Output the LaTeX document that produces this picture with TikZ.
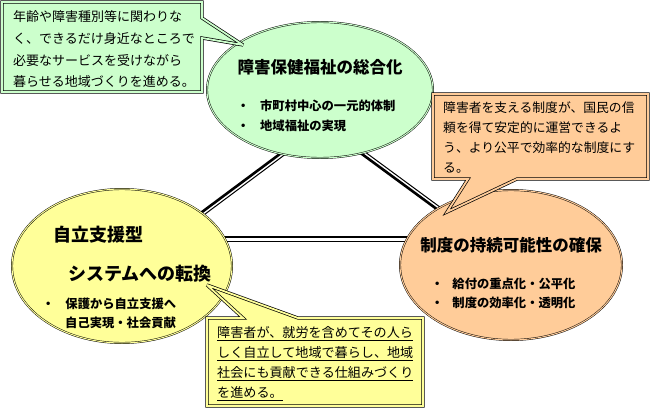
\documentclass[tikz,border=0pt]{standalone}
\usepackage{fontspec}
\setmainfont{Noto Sans CJK JP}
\usetikzlibrary{shapes.geometric,calc}
\pgfdeclarelayer{bg}
\pgfsetlayers{bg,main}
\definecolor{cgreen}{HTML}{CCFFCC}
\definecolor{cyellow}{HTML}{FFFF99}
\definecolor{corange}{HTML}{FFCC99}
\begin{document}
\begin{tikzpicture}[x=1pt,y=-1pt,
  oval/.style={ellipse, draw=black, line width=0.45pt, double distance=1pt, inner sep=0},
  callout/.style={draw=black, line width=0.7pt, double distance=1.8pt, line join=miter, miter limit=4},
  ttl/.style={font=\fontsize{16.5}{18}\selectfont\bfseries, inner sep=0},
  bigttl/.style={font=\fontsize{18}{20}\selectfont\bfseries, inner sep=0, anchor=west},
  bul/.style={font=\fontsize{12.3}{14}\selectfont\bfseries, inner sep=0, anchor=west},
  ctext/.style={align=left, inner sep=0, anchor=north west},
  thk/.style={line width=2.6pt, shorten <=-8pt, shorten >=-8pt},
  thn/.style={line width=1pt, shorten <=-8pt, shorten >=-8pt}]
\useasboundingbox (0,0) rectangle (650,409);

% ellipses
\node[oval, double=cgreen, fill=cgreen, minimum width=226pt, minimum height=136pt] (g) at (320,90) {};
\node[oval, double=cyellow, fill=cyellow, minimum width=220pt, minimum height=154pt] (y) at (122,266) {};
\node[oval, double=corange, fill=corange, minimum width=222pt, minimum height=150pt] (o) at (511,265) {};

% connectors
\coordinate (h) at (0,237);
\begin{pgfonlayer}{bg}
\draw[thk] (g.238.4) -- (y.34);
\draw[thn, transform canvas={shift={(2.1pt,-2.8pt)}}] (g.238.4) -- (y.34);
\draw[thk] (g.303.7) -- (o.143);
\draw[thn, transform canvas={shift={(2.1pt,2.8pt)}}] (g.303.7) -- (o.143);
\draw[thk] (y.center |- h) -- (o.center |- h);
\draw[thn, transform canvas={shift={(0pt,-4pt)}}] (y.center |- h) -- (o.center |- h);
\end{pgfonlayer}

% ellipse texts
\node[ttl] (gt) at (320,67) {障害保健福祉の総合化};
\node[bul] (g1) at (237,106) {・\hspace{10.7pt}市町村中心の一元的体制};
\node[bul] (g2) at (237,126) {・\hspace{10.7pt}地域福祉の実現};

\node[bigttl] (yt1) at (53,235) {自立支援型};
\node[bigttl] (yt2) at (68,274) {システムへの転換};
\node[bul] (y1) at (42,304) {・\hspace{11pt}保護から自立支援へ};
\node[bul] (y2) at (65,323) {自己実現・社会貢献};

\node[ttl] (ot) at (511,245) {制度の持続可能性の確保};
\node[bul] (o1) at (431,284) {・\hspace{9pt}給付の重点化・公平化};
\node[bul] (o2) at (431,303) {・\hspace{9pt}制度の効率化・透明化};

% callouts
\path[callout, fill=cgreen, double=cgreen] (2,2) -- (202,2) -- (202,18) -- (243,45) -- (202,38) -- (202,92) -- (2,92) -- cycle;
\node[ctext, font=\fontsize{13}{21.7}\selectfont] (gtx) at (13,10.5)
  {年齢や障害種別等に関わりな\\く、できるだけ身近なところで\\必要なサービスを受けながら\\暮らせる地域づくりを進める。};

\path[callout, fill=corange, double=corange] (433,94) -- (648,94) -- (648,179) -- (517,179) -- (447,212) -- (468,179) -- (433,179) -- cycle;
\node[ctext, font=\fontsize{12.8}{20}\selectfont] (otx) at (443,101.6)
  {障害者を支える制度が、国民の信\\頼を得て安定的に運営できるよ\\う、より公平で効率的な制度にす\\る。};

\path[callout, fill=cyellow, double=cyellow] (207,318) -- (243,318) -- (207,285) -- (298,318) -- (423,318) -- (423,406) -- (207,406) -- cycle;
\node[ctext, font=\fontsize{13.1}{20}\selectfont] (ytx) at (217,326.5)
  {\underline{障害者が、就労を含めてその人ら}\\\underline{しく自立して地域で暮らし、地域}\\\underline{社会にも貢献できる仕組みづくり}\\\underline{を進める。}};
\end{tikzpicture}
\end{document}
